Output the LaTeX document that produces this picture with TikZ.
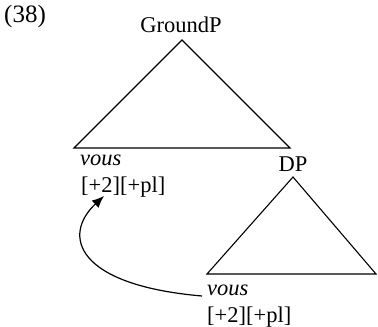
\documentclass[tikz,border=0pt]{standalone}
\usepackage{fontspec}
\setmainfont{Liberation Serif}
\usetikzlibrary{arrows.meta}
\begin{document}
\begin{tikzpicture}[x=1pt,y=-1pt,
  lbl/.style={inner sep=0pt,anchor=base west,font=\fontsize{22.5}{27}\selectfont},
  tri/.style={line width=1.1pt,line join=miter},
  mv/.style={line width=1.2pt,-{Latex[length=12pt,width=10pt]}}]
\useasboundingbox (0,0) rectangle (378,327);
% labels
\node[lbl,font=\fontsize{25}{30}\selectfont] (ex) at (4,22) {(38)};
\node[lbl,anchor=base] (gp) at (181,32) {GroundP};
\node[lbl] (v1) at (80,165) {\itshape vous};
\node[lbl] (f1) at (81,192) {[+2][+pl]};
\node[lbl,anchor=base] (dp) at (293,171) {DP};
\node[lbl] (v2) at (207,295) {\itshape vous};
\node[lbl] (f2) at (207,322) {[+2][+pl]};
% triangles
\coordinate (a1) at (182,40);
\draw[tri] (a1) -- (74,148) -- (290,148) -- cycle;
\coordinate (a2) at (293,177);
\draw[tri] (a2) -- (207,274) -- (376,274) -- cycle;
% movement arrow
\coordinate (tip) at (104,196);
\coordinate (src) at (202,296);
\draw[mv] (src) .. controls (75,285) and (62,235) .. (tip);
\end{tikzpicture}
\end{document}
